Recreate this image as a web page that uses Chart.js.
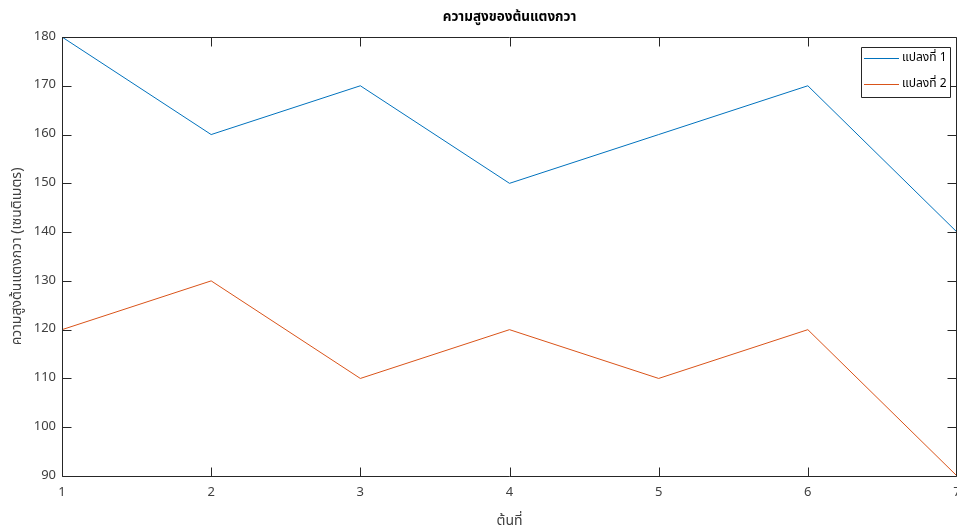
<!DOCTYPE html>
<html><head><meta charset="utf-8">
<script src="https://cdn.jsdelivr.net/npm/chart.js@4/dist/chart.umd.min.js"></script>
<style>html,body{margin:0;padding:0;background:#fff;}#wrap{width:957px;height:531px;}</style>
</head><body><div id="wrap"><canvas id="c" width="957" height="531"></canvas></div>
<script>
const categories = [1, 2, 3, 4, 5, 6, 7];
const plot1 = [180, 160, 170, 150, 160, 170, 140];
const plot2 = [120, 130, 110, 120, 110, 120, 90];
const seriesNames = ['แปลงที่ 1', 'แปลงที่ 2'];
const yMin = 90, yMax = 180, yStep = 10;
const titleText = 'ความสูงของต้นแตงกวา';
const xTitle = 'ต้นที่';
const yTitle = 'ความสูงต้นแตงกวา (เซนติเมตร)';

const FONT = '"Noto Sans Thai","Noto Sans","DejaVu Sans",Tahoma,sans-serif';
const AX = '#262626';
const colors = ['#0072BD', '#D95319'];
const TICK = 9;

const boxPlugin = {
  id: 'box',
  afterDraw(chart) {
    const {ctx, chartArea: a, scales: {x, y}} = chart;
    ctx.save();
    ctx.setLineDash([]);
    ctx.strokeStyle = AX; ctx.lineWidth = 1;
    const L = Math.round(a.left) + 0.5, R = Math.round(a.right) - 0.5, T = Math.round(a.top) + 0.5, B = Math.round(a.bottom) + 0.5;
    ctx.beginPath();
    ctx.rect(L, T, R - L, B - T);
    ctx.stroke();
    x.ticks.forEach(t => {
      const px = Math.round(x.getPixelForValue(t.value)) + 0.5;
      ctx.beginPath();
      ctx.moveTo(px, B); ctx.lineTo(px, B - TICK);
      ctx.moveTo(px, T); ctx.lineTo(px, T + TICK);
      ctx.stroke();
    });
    y.ticks.forEach(t => {
      const py = Math.round(y.getPixelForValue(t.value)) + 0.5;
      ctx.beginPath();
      ctx.moveTo(L, py); ctx.lineTo(L + TICK, py);
      ctx.moveTo(R, py); ctx.lineTo(R - TICK, py);
      ctx.stroke();
    });
    // legend
    const lx = 861.5, ly = 47.5, lw = 89, lh = 50;
    ctx.fillStyle = '#fff';
    ctx.fillRect(lx, ly, lw, lh);
    ctx.beginPath();
    ctx.strokeStyle = AX;
    ctx.rect(lx, ly, lw, lh);
    ctx.stroke();
    ctx.font = '12px ' + FONT;
    ctx.textBaseline = 'middle';
    ctx.textAlign = 'left';
    const rows = [58.5, 84.5];
    chart.data.datasets.forEach((ds, i) => {
      ctx.strokeStyle = ds.borderColor;
      ctx.beginPath(); ctx.moveTo(864, rows[i]); ctx.lineTo(899, rows[i]); ctx.stroke();
      ctx.fillStyle = '#000';
      ctx.fillText(ds.label, 902, rows[i]);
    });
    ctx.restore();
  }
};

new Chart(document.getElementById('c'), {
  type: 'line',
  data: {
    datasets: [plot1, plot2].map((s, i) => ({
      label: seriesNames[i],
      data: categories.map((c, j) => ({x: c, y: s[j]})),
      borderColor: colors[i], backgroundColor: colors[i],
      borderWidth: 1, pointRadius: 0, tension: 0, fill: false
    }))
  },
  options: {
    responsive: false, animation: false,
    layout: {padding: 0},
    plugins: {
      legend: {display: false},
      tooltip: {enabled: false},
      title: {display: true, text: titleText, fullSize: false, color: '#000',
        font: {family: FONT, size: 13.5, weight: 'bold'}, padding: {top: 10.5, bottom: 10.3}}
    },
    scales: {
      x: {type: 'linear', min: 1, max: 7,
        afterFit(s) { s.height = 55; s.paddingRight = 0; s.paddingLeft = 0; },
        grid: {display: false, drawTicks: false}, border: {display: false},
        ticks: {stepSize: 1, color: '#404040', font: {family: FONT, size: 13}, padding: 10, maxRotation: 0, autoSkip: false},
        title: {display: true, text: xTitle, color: '#404040', font: {family: FONT, size: 14}, padding: {top: 0, bottom: 0}}
      },
      y: {min: yMin, max: yMax,
        afterFit(s) { s.width = 62; s.paddingTop = 0; s.paddingBottom = 0; },
        grid: {display: false, drawTicks: false}, border: {display: false},
        ticks: {stepSize: yStep, color: '#404040', font: {family: FONT, size: 13}, padding: 6},
        title: {display: true, text: yTitle, color: '#404040', font: {family: FONT, size: 14}, padding: {top: 10, bottom: 0}}
      }
    }
  },
  plugins: [boxPlugin]
});
</script></body></html>
